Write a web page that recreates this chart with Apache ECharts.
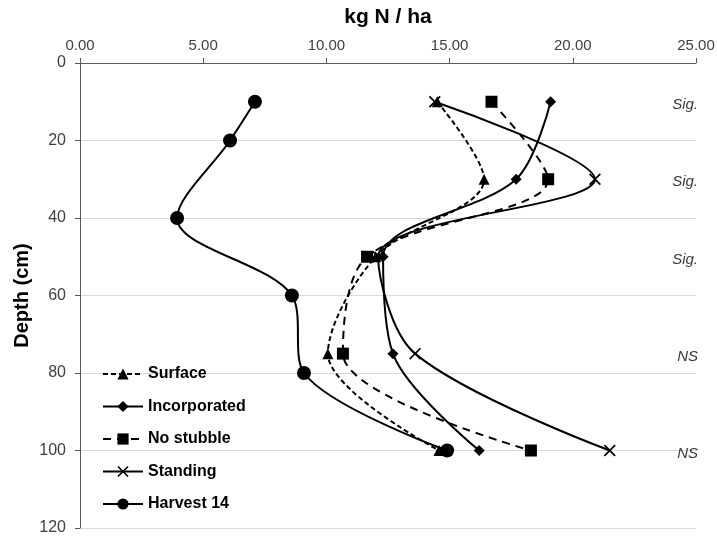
<!DOCTYPE html>
<html>
<head>
<meta charset="utf-8">
<script src="https://cdn.jsdelivr.net/npm/echarts@6/dist/echarts.min.js"></script>
<style>html,body{margin:0;padding:0;background:#fff}#c{width:717px;height:538px}</style>
</head>
<body>
<div id="c"></div>
<script>
// ---- data ----
var xTicks = ['0.00', '5.00', '10.00', '15.00', '20.00', '25.00'];
var seriesNames = ['Surface', 'Incorporated', 'No stubble', 'Standing', 'Harvest 14'];
var trialDepths = [10, 30, 50, 75, 100];
var surfaceN = [14.5, 16.4, 12.0, 10.06, 14.57];
var incorporatedN = [19.1, 17.7, 12.3, 12.7, 16.2];
var noStubbleN = [16.7, 19.0, 11.65, 10.67, 18.3];
var standingN = [14.4, 20.9, 12.1, 13.6, 21.5];
var harvestDepths = [10, 20, 40, 60, 80, 100];
var harvestN = [7.1, 6.09, 3.94, 8.6, 9.09, 14.9];
var sigDepths = [10, 30, 50, 75, 100];
var sigLabels = ['Sig.', 'Sig.', 'Sig.', 'NS', 'NS'];
var sigX = 25;

function pairs(xs, ys) { return xs.map(function (v, i) { return [v, ys[i]]; }); }

var crossPath = 'path://M0,1L1,0L5,4L9,0L10,1L6,5L10,9L9,10L5,6L1,10L0,9L4,5Z';
var black = '#000000';
var FONT = 'Liberation Sans, Arial, sans-serif';
function lineSeries(name, xs, ys, symbol, size, dash) {
  return {
    name: name, type: 'line', smooth: 0.33,
    data: pairs(xs, ys),
    symbol: symbol, symbolSize: size, showAllSymbol: true,
    lineStyle: { color: black, width: 2, type: dash },
    itemStyle: { color: black, borderColor: black, borderWidth: 0 },
    emphasis: { disabled: true },
    z: 3
  };
}

var chart = echarts.init(document.getElementById('c'), null, { renderer: 'canvas' });
chart.setOption({
  animation: false,
  backgroundColor: '#ffffff',
  grid: { left: 80, right: 21, top: 63, bottom: 10, containLabel: false, outerBoundsMode: 'none' },
  legend: {
    orient: 'vertical', left: 102, top: 366, padding: 0,
    itemWidth: 40, itemHeight: 14, itemGap: 16.5,
    textStyle: { fontFamily: FONT, fontWeight: 'bold', fontSize: 16, color: '#000' },
    data: seriesNames
  },
  xAxis: {
    type: 'value', position: 'top', min: 0, max: 25, interval: 5,
    name: 'kg N / ha', nameLocation: 'middle', nameGap: 35,
    nameTextStyle: { fontFamily: FONT, fontWeight: 'bold', fontSize: 21, color: '#000' },
    axisLine: { show: true, lineStyle: { color: '#595959', width: 1 } },
    axisTick: { show: true, length: 5, inside: false, lineStyle: { color: '#595959' } },
    axisLabel: { margin: 10, fontFamily: FONT, fontSize: 15, color: '#404040',
      formatter: function (v) { return xTicks[Math.round(v / 5)]; } },
    splitLine: { show: false }
  },
  yAxis: {
    type: 'value', inverse: true, min: 0, max: 120, interval: 20,
    name: 'Depth (cm)', nameLocation: 'middle', nameGap: 48, nameRotate: 90, nameMoveOverlap: false,
    nameTextStyle: { fontFamily: FONT, fontWeight: 'bold', fontSize: 20, color: '#000' },
    axisLine: { show: true, lineStyle: { color: '#595959', width: 1 } },
    axisTick: { show: true, length: 5, inside: false, lineStyle: { color: '#595959' } },
    axisLabel: { margin: 14, fontFamily: FONT, fontSize: 16, color: '#404040' },
    splitLine: { show: true, lineStyle: { color: '#d9d9d9', width: 1 } }
  },
  series: [
    lineSeries('Surface', surfaceN, trialDepths, 'triangle', 11, [5, 3]),
    lineSeries('Incorporated', incorporatedN, trialDepths, 'diamond', 11, 'solid'),
    lineSeries('No stubble', noStubbleN, trialDepths, 'rect', 12, [8, 6]),
    lineSeries('Standing', standingN, trialDepths, crossPath, 12, 'solid'),
    lineSeries('Harvest 14', harvestN, harvestDepths, 'circle', 14, 'solid'),
    {
      name: 'sig', type: 'scatter', symbolSize: 0, silent: true,
      data: sigDepths.map(function (d, i) { return { value: [sigX, d], label: { formatter: sigLabels[i] } }; }),
      label: { show: true, position: 'left', distance: -2, offset: [0, 3], fontFamily: FONT,
        fontStyle: 'italic', fontSize: 15, color: '#000' }
    }
  ]
});
</script>
</body>
</html>
